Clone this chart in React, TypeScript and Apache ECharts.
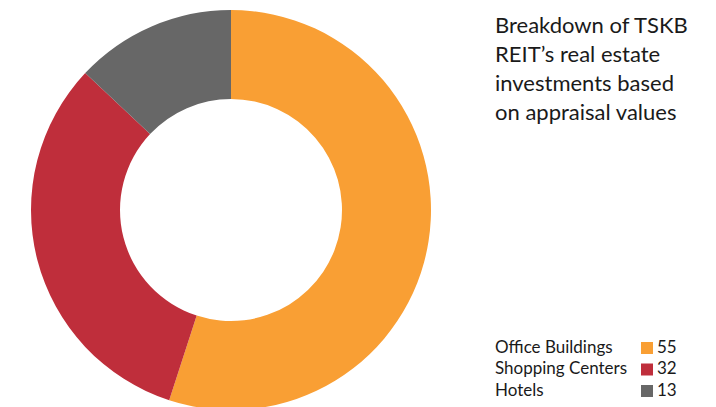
import React, { useEffect, useRef } from "react";
import * as echarts from "echarts";

const categories = ["Office Buildings", "Shopping Centers", "Hotels"];
const values = [55, 32, 13];
const colors = ["#F99F34", "#BF2E3B", "#676767"];
const titleLines = [
  "Breakdown of TSKB",
  "REIT\u2019s real estate",
  "investments based",
  "on appraisal values",
];

const FONT = "Lato, 'Noto Sans', sans-serif";

export default function App() {
  const ref = useRef<HTMLDivElement>(null);
  useEffect(() => {
    if (!ref.current) return;
    const chart = echarts.init(ref.current, null, { renderer: "svg" });
    const legendEls: any[] = [];
    categories.forEach((c, i) => {
      const y = 348 + i * 21.5;
      legendEls.push({
        type: "text",
        left: 495,
        top: y - 10.5,
        style: { text: c, font: `17px ${FONT}`, fill: "#1a1a1a" },
      });
      legendEls.push({
        type: "rect",
        shape: { x: 641, y: y - 6, width: 12, height: 12 },
        style: { fill: colors[i] },
      });
      legendEls.push({
        type: "text",
        left: 657,
        top: y - 10.5,
        style: { text: String(values[i]), font: `17px ${FONT}`, fill: "#1a1a1a" },
      });
    });
    chart.setOption({
      animation: false,
      graphic: [
        {
          type: "text",
          left: 495,
          top: 10,
          style: {
            text: titleLines.join("\n"),
            font: `22px ${FONT}`,
            lineHeight: 29,
            fill: "#1a1a1a",
          },
        },
        ...legendEls,
      ],
      series: [
        {
          type: "pie",
          center: [231, 210],
          radius: [111, 200],
          startAngle: 90,
          clockwise: true,
          label: { show: false },
          labelLine: { show: false },
          silent: true,
          data: categories.map((c, i) => ({
            name: c,
            value: values[i],
            itemStyle: { color: colors[i] },
          })),
        },
      ],
    });
    return () => chart.dispose();
  }, []);
  return (
    <div
      ref={ref}
      style={{ position: "fixed", left: 0, top: 0, width: 716, height: 407, background: "#fff" }}
    />
  );
}
